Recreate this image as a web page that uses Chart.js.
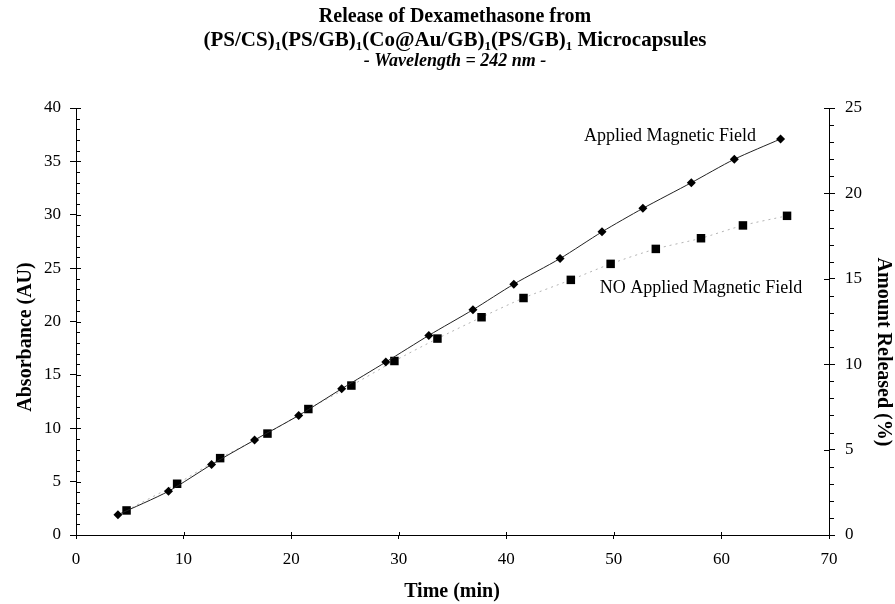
<!DOCTYPE html>
<html>
<head>
<meta charset="utf-8">
<title>Release of Dexamethasone</title>
<script src="https://cdn.jsdelivr.net/npm/chart.js@4.4.1/dist/chart.umd.min.js"></script>
<style>
  html, body { margin: 0; padding: 0; background: #fff; }
  canvas { display: block; }
</style>
</head>
<body>
<canvas id="c" width="895" height="604"></canvas>
<script>
// Release measurements: time (min) vs absorbance (AU)
const timeApplied = [3.9, 8.6, 12.6, 16.6, 20.7, 24.7, 28.8, 32.8, 36.9, 40.7, 45.0, 48.9, 52.7, 57.2, 61.2, 65.5];
const absApplied  = [1.9, 4.1, 6.6, 8.9, 11.2, 13.7, 16.2, 18.7, 21.1, 23.5, 25.9, 28.4, 30.6, 33.0, 35.2, 37.1];

const timeNoField = [4.7, 9.4, 13.4, 17.8, 21.6, 25.6, 29.6, 33.6, 37.7, 41.6, 46.0, 49.7, 53.9, 58.1, 62.0, 66.1];
const absNoField  = [2.3, 4.8, 7.2, 9.5, 11.8, 14.0, 16.3, 18.4, 20.4, 22.2, 23.9, 25.4, 26.8, 27.8, 29.0, 29.9];

// Axis ranges and tick steps
const timeRange = [0, 70];
const absRange = [0, 40];
const releasedRange = [0, 25];
const timeStep = 10;
const absStep = 5;
const releasedStep = 5;

const seriesLabels = ['Applied Magnetic Field', 'NO Applied Magnetic Field'];

const SERIF = '"Liberation Serif", "Times New Roman", serif';

const toPoints = (xs, ys) => xs.map((x, i) => ({ x: x, y: ys[i] }));

// Titles, axis titles, minor ticks and series labels
const decorations = {
  id: 'decorations',
  beforeDraw(chart) {
    const ctx = chart.ctx;
    ctx.save();
    ctx.fillStyle = '#fff';
    ctx.fillRect(0, 0, chart.width, chart.height);
    ctx.restore();
  },
  afterDraw(chart) {
    const ctx = chart.ctx;
    const area = chart.chartArea;
    const xs = chart.scales.x, ys = chart.scales.y, y2 = chart.scales.y2;
    ctx.save();
    ctx.strokeStyle = '#000';
    ctx.lineWidth = 1;

    // left axis: minor ticks inside, major ticks cross the line
    ctx.beginPath();
    for (let v = absRange[0]; v <= absRange[1]; v++) {
      const py = Math.round(ys.getPixelForValue(v)) + 0.5;
      const len = (v % absStep === 0) ? 5 : 4;
      ctx.moveTo(area.left, py);
      ctx.lineTo(area.left + len, py);
    }
    // right axis: minor ticks outside, major ticks cross the line
    for (let v = releasedRange[0]; v <= releasedRange[1]; v++) {
      const py = Math.round(y2.getPixelForValue(v)) + 0.5;
      if (v % releasedStep === 0) {
        ctx.moveTo(area.right - 5, py);
        ctx.lineTo(area.right, py);
      } else {
        ctx.moveTo(area.right, py);
        ctx.lineTo(area.right + 5, py);
      }
    }
    // time axis: major ticks cross the line
    for (let v = timeRange[0]; v <= timeRange[1]; v += timeStep) {
      const px = Math.round(xs.getPixelForValue(v)) + 0.5;
      ctx.moveTo(px, area.bottom - 3);
      ctx.lineTo(px, area.bottom);
    }
    ctx.stroke();

    ctx.fillStyle = '#000';
    const cx = 455;

    // chart title
    ctx.textAlign = 'center';
    ctx.textBaseline = 'alphabetic';
    ctx.font = 'bold 20px ' + SERIF;
    ctx.fillText('Release of Dexamethasone from', cx, 22);

    const parts = [
      ['(PS/CS)', false], ['1', true], ['(PS/GB)', false], ['1', true],
      ['(Co@Au/GB)', false], ['1', true], ['(PS/GB)', false], ['1', true],
      [' Microcapsules', false]
    ];
    const mainFont = 'bold 21px ' + SERIF;
    const subFont = 'bold 13px ' + SERIF;
    let total = 0;
    parts.forEach(p => { ctx.font = p[1] ? subFont : mainFont; total += ctx.measureText(p[0]).width; });
    let x = cx - total / 2;
    ctx.textAlign = 'left';
    parts.forEach(p => {
      ctx.font = p[1] ? subFont : mainFont;
      ctx.fillText(p[0], x, p[1] ? 50 : 46);
      x += ctx.measureText(p[0]).width;
    });

    ctx.textAlign = 'center';
    ctx.font = 'italic bold 18px ' + SERIF;
    ctx.fillText('- Wavelength = 242 nm -', cx, 66);

    // axis titles
    ctx.font = 'bold 20px ' + SERIF;
    ctx.textBaseline = 'middle';
    ctx.fillText('Time (min)', 452, 592);

    ctx.save();
    ctx.translate(26, 337);
    ctx.rotate(-Math.PI / 2);
    ctx.fillText('Absorbance (AU)', 0, 0);
    ctx.restore();

    ctx.save();
    ctx.translate(883, 352);
    ctx.rotate(Math.PI / 2);
    ctx.fillText('Amount Released (%)', 0, 0);
    ctx.restore();

    // series labels next to the curves
    ctx.font = '18px ' + SERIF;
    ctx.fillText(seriesLabels[0], 670, 136);
    ctx.fillText(seriesLabels[1], 701, 288);

    ctx.restore();
  }
};

const tickFont = { family: SERIF, size: 17 };

new Chart(document.getElementById('c'), {
  type: 'line',
  data: {
    datasets: [
      {
        label: seriesLabels[0],
        data: toPoints(timeApplied, absApplied),
        yAxisID: 'y',
        borderColor: '#222',
        borderWidth: 1,
        tension: 0.25,
        pointStyle: 'rectRot',
        pointRadius: 4.5,
        pointBackgroundColor: '#000',
        pointBorderColor: '#000',
        pointBorderWidth: 0,
        fill: false
      },
      {
        label: seriesLabels[1],
        data: toPoints(timeNoField, absNoField),
        yAxisID: 'y',
        borderColor: '#b4b4b4',
        borderWidth: 1,
        borderDash: [2, 4],
        tension: 0.25,
        pointStyle: 'rect',
        pointRadius: 6,
        pointBackgroundColor: '#000',
        pointBorderColor: '#000',
        pointBorderWidth: 0,
        fill: false
      }
    ]
  },
  options: {
    responsive: false,
    animation: false,
    devicePixelRatio: 1,
    events: [],
    layout: { padding: { top: 108, left: 0, right: 0, bottom: 0 } },
    plugins: {
      legend: { display: false },
      title: { display: false },
      tooltip: { enabled: false }
    },
    scales: {
      x: {
        type: 'linear',
        position: 'bottom',
        min: timeRange[0],
        max: timeRange[1],
        ticks: { stepSize: timeStep, color: '#000', font: tickFont, padding: 10, maxRotation: 0 },
        grid: { drawOnChartArea: false, drawTicks: true, tickLength: 4, color: '#000' },
        border: { display: true, color: '#000', width: 1 },
        afterFit(s) { s.height = 69; }
      },
      y: {
        type: 'linear',
        position: 'left',
        min: absRange[0],
        max: absRange[1],
        ticks: { stepSize: absStep, color: '#000', font: tickFont, padding: 9 },
        grid: { drawOnChartArea: false, drawTicks: true, tickLength: 6, color: '#000' },
        border: { display: true, color: '#000', width: 1 },
        afterFit(s) { s.width = 76; }
      },
      y2: {
        type: 'linear',
        position: 'right',
        min: releasedRange[0],
        max: releasedRange[1],
        ticks: { stepSize: releasedStep, color: '#000', font: tickFont, padding: 10 },
        grid: { drawOnChartArea: false, drawTicks: true, tickLength: 6, color: '#000' },
        border: { display: true, color: '#000', width: 1 },
        afterFit(s) { s.width = 66; }
      }
    }
  },
  plugins: [decorations]
});
</script>
</body>
</html>
